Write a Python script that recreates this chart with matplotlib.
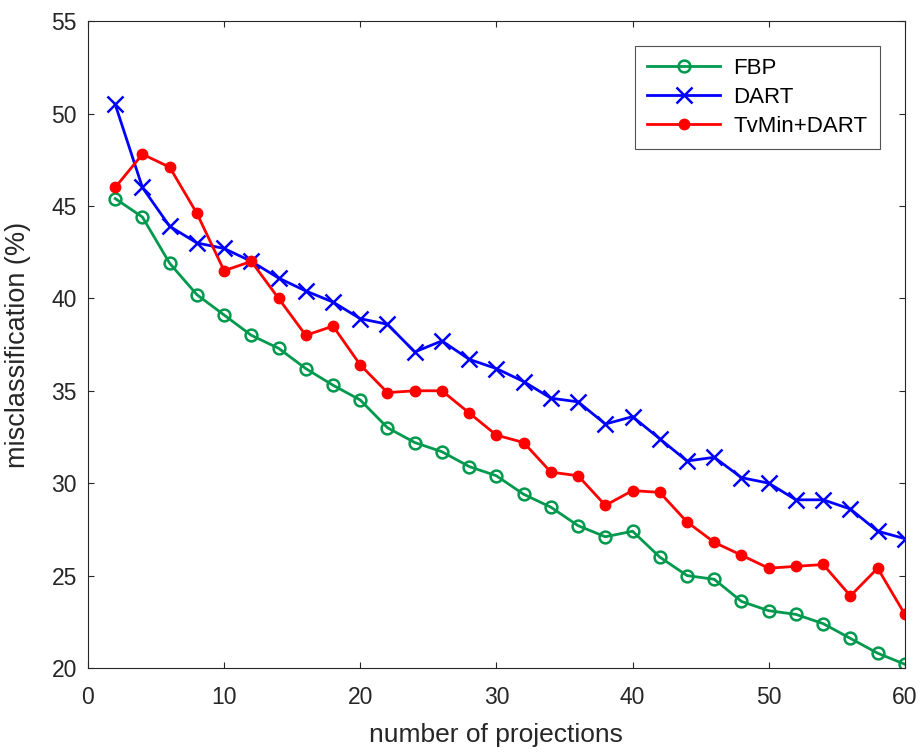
import matplotlib
matplotlib.use("Agg")
import matplotlib.pyplot as plt

plt.rcParams['font.family'] = ['Liberation Sans', 'DejaVu Sans']

projections = list(range(2, 61, 2))
fbp = [45.4, 44.4, 41.9, 40.2, 39.1, 38.0, 37.3, 36.2, 35.3, 34.5,
       33.0, 32.2, 31.7, 30.9, 30.4, 29.4, 28.7, 27.7, 27.1, 27.4,
       26.0, 25.0, 24.8, 23.6, 23.1, 22.9, 22.4, 21.6, 20.8, 20.2]
dart = [50.5, 46.0, 43.9, 43.0, 42.7, 42.0, 41.1, 40.4, 39.8, 38.9,
        38.6, 37.1, 37.7, 36.7, 36.2, 35.5, 34.6, 34.4, 33.2, 33.6,
        32.4, 31.2, 31.4, 30.3, 30.0, 29.1, 29.1, 28.6, 27.4, 27.0]
tvmin = [46.0, 47.8, 47.1, 44.6, 41.5, 42.0, 40.0, 38.0, 38.5, 36.4,
         34.9, 35.0, 35.0, 33.8, 32.6, 32.2, 30.6, 30.4, 28.8, 29.6,
         29.5, 27.9, 26.8, 26.1, 25.4, 25.5, 25.6, 23.9, 25.4, 22.9]
labels = ['FBP', 'DART', 'TvMin+DART']

fig = plt.figure(figsize=(9.21, 7.53), dpi=100)
ax = fig.add_axes([0.0955, 0.1129, 0.887, 0.859])

ax.plot(projections, fbp, color='#00994D', lw=2, marker='o', ms=8.5,
        mfc='none', mew=1.8, label=labels[0])
ax.plot(projections, dart, color='#0000FF', lw=2, marker='x', ms=12,
        mew=1.8, label=labels[1])
ax.plot(projections, tvmin, color='#FF0000', lw=2, marker='o', ms=7.5,
        mfc='#FF0000', label=labels[2])

ax.set_xlim(0, 60)
ax.set_ylim(20, 55)
ax.set_xticks(range(0, 61, 10))
ax.set_yticks(range(20, 56, 5))
ax.tick_params(direction='in', length=4, labelsize=16.5, colors='#262626',
               top=True, right=True)
ax.tick_params(axis='y', pad=8)
ax.tick_params(axis='x', pad=13)
for s in ax.spines.values():
    s.set_color('#262626')
    s.set_linewidth(0.8)
ax.set_xlabel('number of projections', fontsize=19, color='#262626', labelpad=10)
ax.set_ylabel('misclassification (%)', fontsize=19.5, color='#262626', labelpad=15)

leg = ax.legend(loc='upper right', bbox_to_anchor=(0.983, 0.979), fontsize=16,
                frameon=True, fancybox=False, edgecolor='#262626',
                handlelength=3.3, borderpad=0.55, labelspacing=0.35,
                handletextpad=0.6)
leg.get_frame().set_linewidth(0.8)

fig.savefig('out.png', dpi=100)
